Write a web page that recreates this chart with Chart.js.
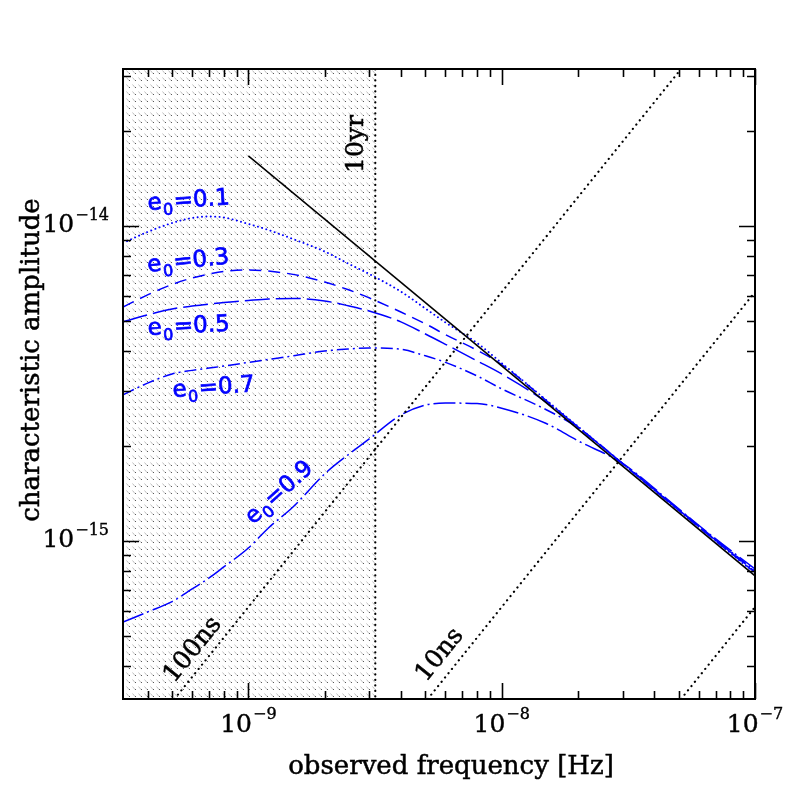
<!DOCTYPE html>
<html>
<head>
<meta charset="utf-8">
<script src="https://cdn.jsdelivr.net/npm/chart.js@4.4.1/dist/chart.umd.min.js"></script>
<style>
html, body { margin: 0; padding: 0; background: #fff; }
#wrap { width: 797px; height: 797px; }
</style>
</head>
<body>
<div id="wrap"><canvas id="myChart" width="797" height="797"></canvas></div>
<script>
// observed frequency [Hz] where the curves were read
var freq = [3.2e-10, 4e-10, 5e-10, 6e-10, 7e-10, 8e-10, 1e-9, 1.2e-9, 1.5e-9, 2e-9, 2.5e-9, 3e-9,
            4e-9, 5e-9, 6e-9, 8e-9, 1e-8, 1.5e-8, 2e-8, 3e-8, 5e-8, 7e-8, 1e-7];

// characteristic amplitude for each eccentricity
var hc01 = [8.83e-15, 9.57e-15, 1.022e-14, 1.060e-14, 1.072e-14, 1.064e-14, 1.015e-14, 9.71e-15, 9.09e-15, 8.30e-15, 7.57e-15, 7.04e-15,
            6.19e-15, 5.47e-15, 4.94e-15, 4.25e-15, 3.67e-15, 2.80e-15, 2.31e-15, 1.76e-15, 1.25e-15, 1.0e-15, 7.9e-16];
var hc03 = [5.53e-15, 6.04e-15, 6.52e-15, 6.84e-15, 7.04e-15, 7.17e-15, 7.25e-15, 7.19e-15, 7.02e-15, 6.64e-15, 6.26e-15, 5.91e-15,
            5.33e-15, 4.89e-15, 4.52e-15, 4.03e-15, 3.63e-15, 2.79e-15, 2.30e-15, 1.76e-15, 1.25e-15, 1.0e-15, 7.95e-16];
var hc05 = [4.96e-15, 5.22e-15, 5.45e-15, 5.57e-15, 5.65e-15, 5.72e-15, 5.80e-15, 5.86e-15, 5.89e-15, 5.78e-15, 5.57e-15, 5.37e-15,
            4.96e-15, 4.54e-15, 4.21e-15, 3.73e-15, 3.39e-15, 2.76e-15, 2.30e-15, 1.76e-15, 1.255e-15, 1.005e-15, 8.0e-16];
var hc07 = [2.91e-15, 3.17e-15, 3.39e-15, 3.48e-15, 3.54e-15, 3.59e-15, 3.69e-15, 3.77e-15, 3.87e-15, 4.01e-15, 4.07e-15, 4.10e-15,
            4.06e-15, 3.87e-15, 3.69e-15, 3.34e-15, 3.04e-15, 2.61e-15, 2.29e-15, 1.765e-15, 1.26e-15, 1.01e-15, 8.05e-16];
var hc09 = [5.53e-16, 5.95e-16, 6.42e-16, 7.04e-16, 7.63e-16, 8.27e-16, 9.50e-16, 1.10e-15, 1.282e-15, 1.632e-15, 1.889e-15, 2.108e-15,
            2.51e-15, 2.70e-15, 2.74e-15, 2.73e-15, 2.64e-15, 2.36e-15, 2.08e-15, 1.762e-15, 1.264e-15, 1.015e-15, 8.15e-16];

// circular binary (black solid)
var circF = [1e-9, 1e-7];
var circH = [1.67e-14, 7.75e-16];

// timing residual sensitivity lines (100ns, 10ns, 1ns)
var res100F = [3e-10, 1e-7];
var res100H = [1.85e-16, 6.17e-14];
var res10F = [3e-9, 1e-7];
var res10H = [1.85e-16, 6.17e-15];
var res1F = [3e-8, 1e-7];
var res1H = [1.85e-16, 6.17e-16];

// 1 / (10 yr)
var tenYr = 3.17e-9;

var eccLabels = ['0.1', '0.3', '0.5', '0.7', '0.9'];
var xTicks = [1e-9, 1e-8, 1e-7];
var xTickExp = ['\u22129', '\u22128', '\u22127'];
var yTicks = [1e-15, 1e-14];
var yTickExp = ['\u221215', '\u221214'];

var xMin = 3.2e-10, xMax = 1e-7, yMin = 3.15e-16, yMax = 3.15e-14;

function pts(xs, ys) {
    return xs.map(function(x, i) { return {x: x, y: ys[i]}; });
}

function blue(data, dash, cap, width) {
    return {
        data: data, borderColor: '#0000ff', borderWidth: width || 1.5, borderDash: dash,
        borderCapStyle: cap || 'butt',
        pointRadius: 0, cubicInterpolationMode: 'monotone', fill: false
    };
}

function blackDots(data) {
    return {
        data: data, borderColor: '#000', borderWidth: 2.2, borderDash: [0.1, 5.4],
        borderCapStyle: 'round', pointRadius: 0, fill: false
    };
}

// hatched tile for the shaded region
function hatch(ctx) {
    var c = document.createElement('canvas');
    c.width = 6; c.height = 7;
    var g = c.getContext('2d');
    g.strokeStyle = 'rgba(120,120,120,0.6)';
    g.lineWidth = 0.8;
    g.beginPath();
    g.moveTo(0.5, 0.5);
    g.lineTo(3, 3.5);
    g.stroke();
    g.fillStyle = 'rgba(40,40,40,0.75)';
    g.fillRect(3, 3, 1, 1);
    return ctx.createPattern(c, 'repeat');
}

function minorValues(min, max) {
    var out = [];
    for (var e = Math.floor(Math.log10(min)); e <= Math.ceil(Math.log10(max)); e++) {
        for (var m = 1; m < 10; m++) {
            var v = m * Math.pow(10, e);
            if (v >= min * 0.999 && v <= max * 1.001) out.push({v: v, major: m === 1});
        }
    }
    return out;
}

function heavyText(ctx, txt, x, y) {
    ctx.fillText(txt, x, y);
    ctx.strokeText(txt, x, y);
}

function powerLabel(ctx, exp, x, y, align) {
    ctx.font = '25px "DejaVu Serif"';
    var w1 = ctx.measureText('10').width;
    ctx.font = '16px "DejaVu Serif"';
    var w2 = ctx.measureText(exp).width;
    var total = w1 + w2 + 1;
    var left = align === 'right' ? x - total : x - total / 2;
    ctx.textAlign = 'left';
    ctx.textBaseline = 'middle';
    ctx.strokeStyle = '#000';
    ctx.lineWidth = 0.4;
    ctx.font = '25px "DejaVu Serif"';
    heavyText(ctx, '10', left, y);
    ctx.font = '16px "DejaVu Serif"';
    heavyText(ctx, exp, left + w1 + 1, y - 10);
}

function eccLabel(ctx, val, x, y, deg) {
    ctx.save();
    ctx.translate(x, y);
    ctx.rotate(deg * Math.PI / 180);
    ctx.fillStyle = '#0000ff';
    ctx.strokeStyle = '#0000ff';
    ctx.lineWidth = 0.7;
    ctx.textAlign = 'left';
    ctx.textBaseline = 'alphabetic';
    ctx.font = '23px "DejaVu Sans"';
    heavyText(ctx, 'e', 0, 0);
    var w = ctx.measureText('e').width;
    ctx.font = '16px "DejaVu Sans"';
    heavyText(ctx, '0', w + 1, 6);
    var w2 = ctx.measureText('0').width;
    ctx.font = '23px "DejaVu Sans"';
    heavyText(ctx, '=' + val, w + w2 + 2, 0);
    ctx.restore();
}

function rotText(ctx, txt, x, y, deg, font) {
    ctx.save();
    ctx.translate(x, y);
    ctx.rotate(deg * Math.PI / 180);
    ctx.fillStyle = '#000';
    ctx.strokeStyle = '#000';
    ctx.lineWidth = 0.5;
    ctx.font = font;
    ctx.textAlign = 'center';
    ctx.textBaseline = 'middle';
    heavyText(ctx, txt, 0, 0);
    ctx.restore();
}

var decor = {
    id: 'decor',
    beforeDatasetsDraw: function(chart) {
        var ctx = chart.ctx, a = chart.chartArea;
        var xs = chart.scales.x;
        var xr = xs.getPixelForValue(tenYr);
        ctx.save();
        ctx.fillStyle = hatch(ctx);
        ctx.fillRect(a.left, a.top, xr - a.left, a.bottom - a.top);
        ctx.restore();
    },
    afterDraw: function(chart) {
        var ctx = chart.ctx, a = chart.chartArea;
        var xs = chart.scales.x, ys = chart.scales.y;
        ctx.save();
        // ticks on all four sides, pointing inward
        ctx.strokeStyle = '#000';
        ctx.lineWidth = 1.6;
        ctx.beginPath();
        minorValues(xMin, xMax).forEach(function(t) {
            var px = Math.round(xs.getPixelForValue(t.v)) + 0.5;
            var len = t.major ? 16 : 8;
            ctx.moveTo(px, a.bottom); ctx.lineTo(px, a.bottom - len);
            ctx.moveTo(px, a.top); ctx.lineTo(px, a.top + len);
        });
        minorValues(yMin, yMax).forEach(function(t) {
            var py = Math.round(ys.getPixelForValue(t.v)) + 0.5;
            var len = t.major ? 16 : 8;
            ctx.moveTo(a.left, py); ctx.lineTo(a.left + len, py);
            ctx.moveTo(a.right, py); ctx.lineTo(a.right - len, py);
        });
        ctx.stroke();
        ctx.lineWidth = 2;
        ctx.strokeRect(a.left, a.top, a.right - a.left, a.bottom - a.top);

        // tick labels
        ctx.fillStyle = '#000';
        xTicks.forEach(function(v, i) {
            powerLabel(ctx, xTickExp[i], xs.getPixelForValue(v), a.bottom + 26, 'center');
        });
        yTicks.forEach(function(v, i) {
            powerLabel(ctx, yTickExp[i], a.left - 14, ys.getPixelForValue(v), 'right');
        });

        // axis titles
        rotText(ctx, 'observed frequency [Hz]', 451, 767, 0, '26px "DejaVu Serif"');
        rotText(ctx, 'characteristic amplitude', 32, 360, -90, '26px "DejaVu Serif"');

        // curve annotations
        rotText(ctx, '10yr', 356, 144, -90, '25px "DejaVu Serif"');
        rotText(ctx, '100ns', 193, 650, -51, '25px "DejaVu Serif"');
        rotText(ctx, '10ns', 440, 655, -51, '25px "DejaVu Serif"');

        eccLabel(ctx, eccLabels[0], 148, 210, -4);
        eccLabel(ctx, eccLabels[1], 148, 272, -6);
        eccLabel(ctx, eccLabels[2], 148, 335, -3);
        eccLabel(ctx, eccLabels[3], 173, 397, -4);
        eccLabel(ctx, eccLabels[4], 253, 525, -42);
        ctx.restore();
    }
};

var ctx = document.getElementById('myChart').getContext('2d');
var chart = new Chart(ctx, {
    type: 'line',
    data: {
        datasets: [
            blackDots(pts([tenYr, tenYr], [1e-16, 1e-13])),
            blackDots(pts(res100F, res100H)),
            blackDots(pts(res10F, res10H)),
            blackDots(pts(res1F, res1H)),
            {data: pts(circF, circH), borderColor: '#000', borderWidth: 1.5, pointRadius: 0, fill: false},
            blue(pts(freq, hc01), [0.1, 4.3], 'round', 1.9),
            blue(pts(freq, hc03), [12, 7]),
            blue(pts(freq, hc05), [25, 6]),
            blue(pts(freq, hc07), [12, 4, 2, 4]),
            blue(pts(freq, hc09), [22, 4, 2, 4])
        ]
    },
    options: {
        responsive: false,
        animation: false,
        layout: {padding: {left: 123, right: 42, top: 69, bottom: 98}},
        plugins: {legend: {display: false}, tooltip: {enabled: false}},
        scales: {
            x: {type: 'logarithmic', min: xMin, max: xMax, display: false},
            y: {type: 'logarithmic', min: yMin, max: yMax, display: false}
        }
    },
    plugins: [decor]
});
</script>
</body>
</html>
